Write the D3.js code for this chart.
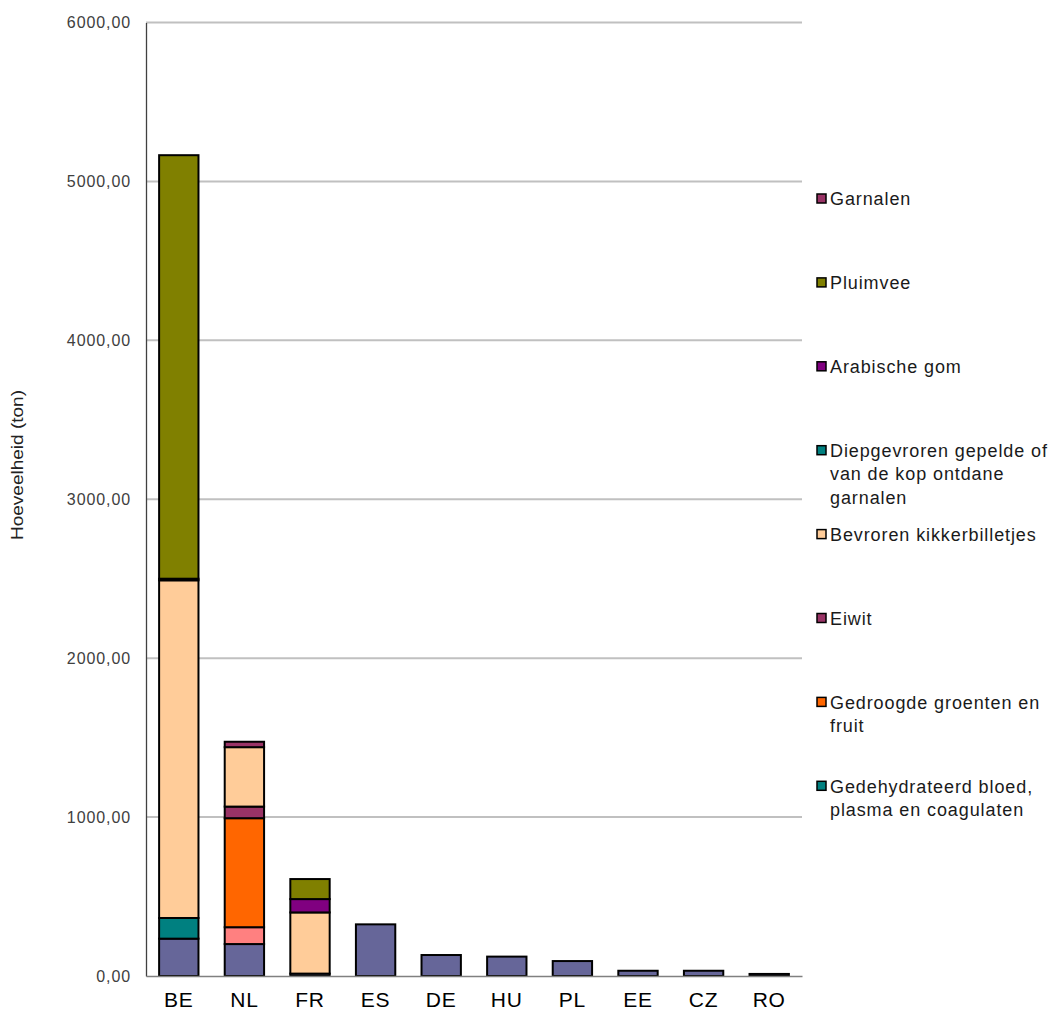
<!DOCTYPE html>
<html lang="nl">
<head>
    <meta charset="UTF-8">
    <title>Hoeveelheid per land</title>
    <style>
        body { margin: 0; background: #fff; }
        svg { font-family: "Liberation Sans", Arial, sans-serif; }
    </style>
</head>
<body>
    <div id="graph"></div>
    <script src="https://d3js.org/d3.v7.min.js"></script>
    <script>
        // Landen (x-as)
        const LANDEN = ["BE", "NL", "FR", "ES", "DE", "HU", "PL", "EE", "CZ", "RO"];

        // Reeksen, van onder naar boven gestapeld
        const OVERIG          = [235, 201, 15, 325, 132, 122, 94, 33, 33, 13];
        const OVERIG_2        = [0, 106, 0, 0, 0, 0, 0, 0, 0, 0];
        const BLOED           = [130, 0, 0, 0, 0, 0, 0, 0, 0, 0];
        const GROENTEN        = [0, 686, 0, 0, 0, 0, 0, 0, 0, 0];
        const EIWIT           = [0, 73, 0, 0, 0, 0, 0, 0, 0, 0];
        const KIKKER          = [2125, 374, 385, 0, 0, 0, 0, 0, 0, 0];
        const DIEPGEVROREN    = [10, 0, 0, 0, 0, 0, 0, 0, 0, 0];
        const ARABISCHE_GOM   = [0, 0, 84, 0, 0, 0, 0, 0, 0, 0];
        const PLUIMVEE        = [2665, 0, 126, 0, 0, 0, 0, 0, 0, 0];
        const GARNALEN        = [0, 34, 0, 0, 0, 0, 0, 0, 0, 0];

        const Y_TICKS = [0, 1000, 2000, 3000, 4000, 5000, 6000];

        const REEKSEN = [
            { naam: "Overig", waarden: OVERIG, kleur: "#666699", legenda: false },
            { naam: "Overig 2", waarden: OVERIG_2, kleur: "#FF8080", legenda: false },
            { naam: "Gedehydrateerd bloed, plasma en coagulaten", regels: ["Gedehydrateerd bloed,", "plasma en coagulaten"], waarden: BLOED, kleur: "#008080", legenda: true },
            { naam: "Gedroogde groenten en fruit", regels: ["Gedroogde groenten en", "fruit"], waarden: GROENTEN, kleur: "#FF6600", legenda: true },
            { naam: "Eiwit", regels: ["Eiwit"], waarden: EIWIT, kleur: "#993366", legenda: true },
            { naam: "Bevroren kikkerbilletjes", regels: ["Bevroren kikkerbilletjes"], waarden: KIKKER, kleur: "#FFCC99", legenda: true },
            { naam: "Diepgevroren gepelde of van de kop ontdane garnalen", regels: ["Diepgevroren gepelde of", "van de kop ontdane", "garnalen"], waarden: DIEPGEVROREN, kleur: "#008080", legenda: true },
            { naam: "Arabische gom", regels: ["Arabische gom"], waarden: ARABISCHE_GOM, kleur: "#800080", legenda: true },
            { naam: "Pluimvee", regels: ["Pluimvee"], waarden: PLUIMVEE, kleur: "#808000", legenda: true },
            { naam: "Garnalen", regels: ["Garnalen"], waarden: GARNALEN, kleur: "#993366", legenda: true }
        ];

        const WIDTH = 1056, HEIGHT = 1017;
        const LEFT = 146, TOP = 22.5, RIGHT = 802, BOTTOM = 976;

        // Tabel voor d3.stack
        const tabel = LANDEN.map((land, i) => {
            const rij = { land };
            REEKSEN.forEach(r => rij[r.naam] = r.waarden[i]);
            return rij;
        });
        const stapels = d3.stack().keys(REEKSEN.map(r => r.naam))(tabel);

        const xScale = d3.scaleBand()
            .domain(LANDEN)
            .range([LEFT, RIGHT])
            .paddingInner(0.4)
            .paddingOuter(0.2);

        const yScale = d3.scaleLinear()
            .domain([0, 6000])
            .range([BOTTOM, TOP]);

        const nl = d3.formatLocale({ decimal: ",", thousands: "", grouping: [3], currency: ["", " €"] });
        const fmt = nl.format(".2f");

        const svg = d3.select("#graph")
            .append("svg")
            .attr("width", WIDTH)
            .attr("height", HEIGHT);

        // Rasterlijnen
        svg.append("g")
            .selectAll("line")
            .data(Y_TICKS.filter(t => t > 0))
            .enter()
            .append("line")
            .attr("x1", LEFT)
            .attr("x2", RIGHT)
            .attr("y1", d => yScale(d))
            .attr("y2", d => yScale(d))
            .attr("stroke", "#c0c0c0")
            .attr("stroke-width", 2);

        // Y-as
        const yAs = svg.append("g")
            .attr("transform", `translate(${LEFT},0)`)
            .call(d3.axisLeft(yScale).tickValues(Y_TICKS).tickFormat(fmt).tickSize(0).tickPadding(15));
        yAs.select(".domain").attr("stroke", "#404040").attr("stroke-width", 1.3);
        yAs.selectAll("text")
            .attr("font-size", "16px")
            .attr("letter-spacing", "0.9px")
            .attr("fill", "#404040")
            .attr("font-family", "Liberation Sans, Arial, sans-serif");

        // Staven
        svg.append("g")
            .selectAll("g")
            .data(stapels)
            .enter()
            .append("g")
            .attr("fill", (d, i) => REEKSEN[i].kleur)
            .selectAll("rect")
            .data(d => d.filter(s => s[1] - s[0] > 0))
            .enter()
            .append("rect")
            .attr("x", d => xScale(d.data.land))
            .attr("y", d => yScale(d[1]))
            .attr("width", xScale.bandwidth())
            .attr("height", d => yScale(d[0]) - yScale(d[1]))
            .attr("stroke", "#000")
            .attr("stroke-width", 2);

        // X-as
        const xAs = svg.append("g")
            .attr("transform", `translate(0,${BOTTOM})`)
            .call(d3.axisBottom(xScale).tickSize(0).tickPadding(16));
        xAs.select(".domain").attr("stroke", "#808080").attr("stroke-width", 1.5);
        xAs.selectAll("text")
            .attr("font-size", "21px")
            .attr("letter-spacing", "0.8px")
            .attr("fill", "#000")
            .attr("font-family", "Liberation Sans, Arial, sans-serif");

        // As-titel
        svg.append("text")
            .attr("transform", "translate(23,465) rotate(-90)")
            .attr("text-anchor", "middle")
            .attr("font-size", "16px")
            .attr("textLength", 150)
            .attr("lengthAdjust", "spacingAndGlyphs")
            .attr("fill", "#222")
            .text("Hoeveelheid (ton)");

        // Legenda (omgekeerde volgorde, zoals in het origineel)
        const legendaItems = REEKSEN.filter(r => r.legenda).reverse();
        const legenda = svg.append("g")
            .selectAll("g")
            .data(legendaItems)
            .enter()
            .append("g")
            .attr("transform", (d, i) => `translate(816,${199 + i * 83.9})`);

        legenda.append("rect")
            .attr("x", 1)
            .attr("y", -5)
            .attr("width", 9)
            .attr("height", 9)
            .attr("fill", d => d.kleur)
            .attr("stroke", "#000")
            .attr("stroke-width", 1.5);

        legenda.append("text")
            .attr("x", 14)
            .attr("y", 0)
            .attr("font-size", "18px")
            .attr("letter-spacing", "0.9px")
            .attr("fill", "#1a1a1a")
            .selectAll("tspan")
            .data(d => d.regels)
            .enter()
            .append("tspan")
            .attr("x", 14)
            .attr("dy", (d, i) => i === 0 ? "0.35em" : "1.3em")
            .text(d => d);
    </script>
</body>
</html>
